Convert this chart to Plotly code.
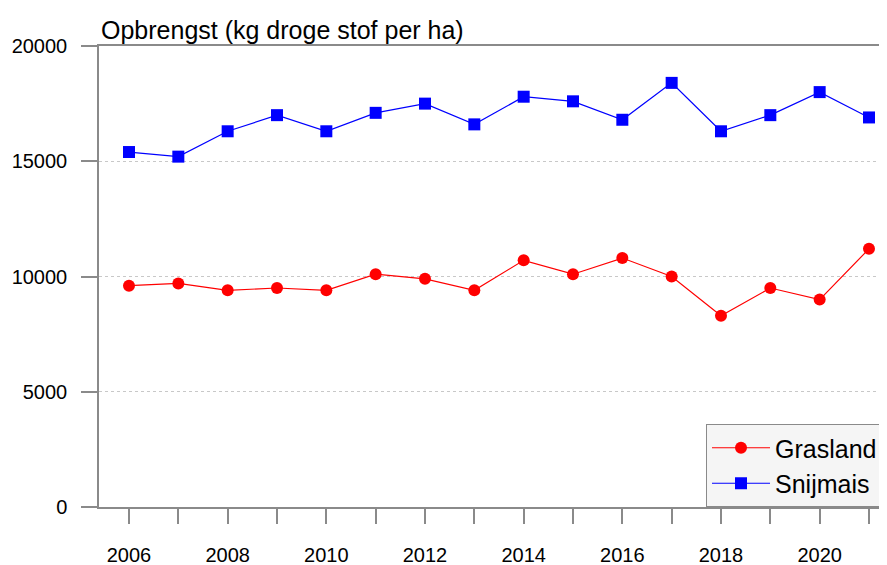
import plotly.graph_objects as go

years = list(range(2006, 2022))
grasland = [9600, 9700, 9400, 9500, 9400, 10100, 9900, 9400, 10700, 10100, 10800, 10000, 8300, 9500, 9000, 11200]
snijmais = [15400, 15200, 16300, 17000, 16300, 17100, 17500, 16600, 17800, 17600, 16800, 18400, 16300, 17000, 18000, 16900]
y_ticks = [0, 5000, 10000, 15000, 20000]
x_tick_text = [str(y) if y % 2 == 0 else "" for y in years]

FONT = "Liberation Sans, Arial, Helvetica, sans-serif"
AX = "#8a8a8a"

fig = go.Figure()
fig.add_trace(go.Scatter(x=years, y=grasland, name="Grasland", mode="lines+markers",
                         line=dict(color="#ff0000", width=1.2),
                         marker=dict(symbol="circle", size=12, color="#ff0000")))
fig.add_trace(go.Scatter(x=years, y=snijmais, name="Snijmais", mode="lines+markers",
                         line=dict(color="#0000ff", width=1.2),
                         marker=dict(symbol="square", size=12, color="#0000ff")))

# page body has an 8px default margin, so the figure is sized/margined to compensate
fig.update_layout(
    width=879, height=557,
    margin=dict(l=91, r=0, t=38, b=58),
    paper_bgcolor="white", plot_bgcolor="white",
    font=dict(family=FONT, size=20, color="black"),
    showlegend=True,
    legend=dict(x=(698 - 91) / 788, y=0, xanchor="left", yanchor="bottom",
                bgcolor="#f5f5f5", bordercolor=AX, borderwidth=1,
                font=dict(size=25), tracegroupgap=0, itemwidth=58),
    annotations=[dict(text="Opbrengst (kg droge stof per ha)", x=0, y=1, xref="paper", yref="paper",
                      xanchor="left", yanchor="bottom", showarrow=False,
                      font=dict(size=25, family=FONT))],
)
fig.update_xaxes(range=[2005.392, 2021.365], tickmode="array", tickvals=years, ticktext=x_tick_text,
                 ticks="outside", ticklen=15, tickcolor=AX, tickwidth=1.5,
                 showline=True, linecolor=AX, linewidth=1.5, mirror=True,
                 showgrid=False, zeroline=False, ticklabelstandoff=14,
                 tickfont=dict(size=20))
fig.update_yaxes(range=[0, 20000], tickmode="array", tickvals=y_ticks,
                 ticktext=[str(v) for v in y_ticks],
                 ticks="outside", ticklen=16, tickcolor=AX, tickwidth=1.5,
                 showline=True, linecolor=AX, linewidth=1.5,
                 showgrid=True, gridcolor="#c8c8c8", griddash="dot", gridwidth=1,
                 zeroline=False, ticklabelstandoff=10, tickfont=dict(size=20))

fig.write_html("out.html")
